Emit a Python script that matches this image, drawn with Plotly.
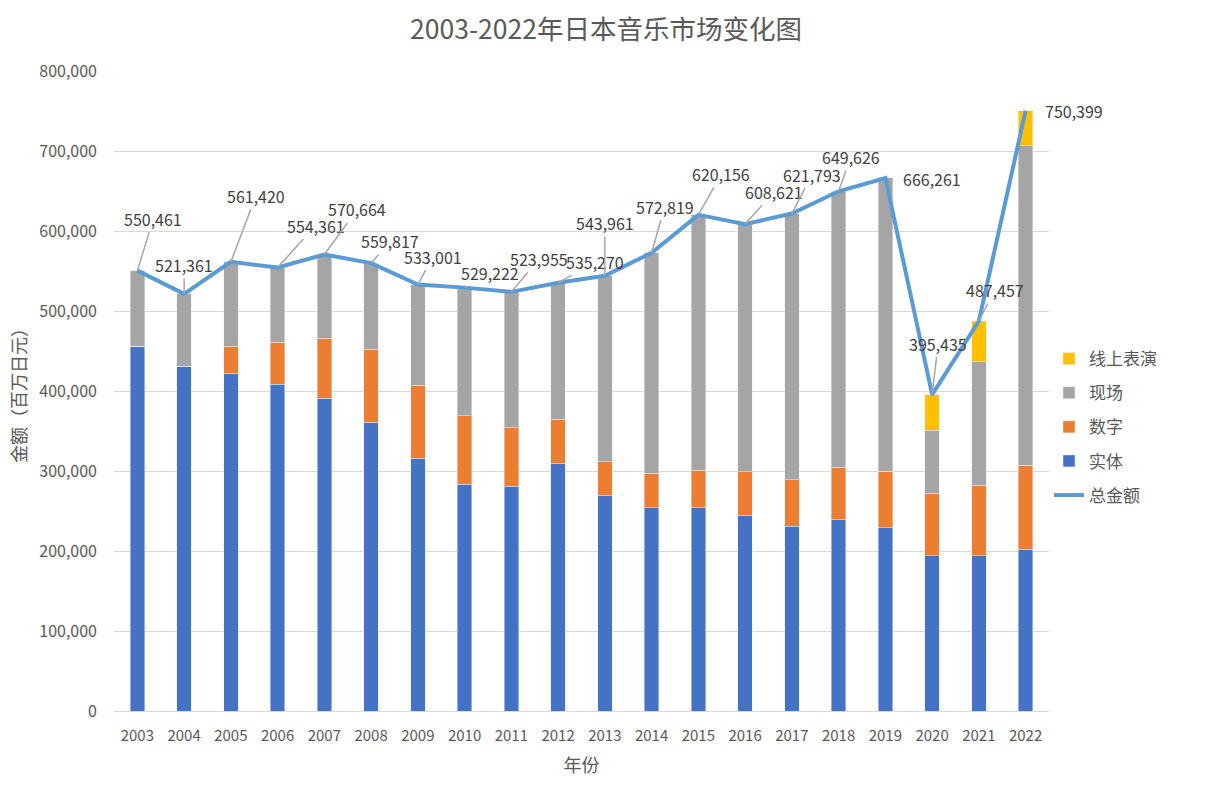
import plotly.graph_objects as go

years = [str(y) for y in range(2003, 2023)]
physical = [456000, 431000, 422500, 408700, 391200, 361200, 316200, 283700, 281200, 310000,
            270000, 254000, 254000, 245000, 231000, 240000, 229000, 194000, 194000, 202500]
digital = [0, 0, 33700, 52500, 75000, 91300, 91300, 85300, 72800, 55000,
           41700, 43500, 47000, 54000, 58000, 65000, 71000, 78500, 88500, 105000]
total = [550461, 521361, 561420, 554361, 570664, 559817, 533001, 529222, 523955, 535270,
         543961, 572819, 620156, 608621, 621793, 649626, 666261, 395435, 487457, 750399]
online = [0]*17 + [44600, 51200, 44100]
live = [t - p - d - o for t, p, d, o in zip(total, physical, digital, online)]

# label offsets (pixels) for data labels
lab_dx = [16, 0, 25, 38, 33, 19, 15, 25, 28, 37, 0, 13, 23, 29, 20, 12, 47, 6, 16, 48]
lab_dy = [-52, -29, -66, -42, -45, -22, -28, -15, -33, -21, -53, -46, -41, -32, -39, -34, 1, -51, -31, 0]
no_line = {16, 19}

FONT = "Microsoft YaHei, Noto Sans CJK SC, sans-serif"
fig = go.Figure()
fig.add_bar(x=years, y=physical, name="实体", marker_color="#4472c4", legendrank=4, legendgroup="a")
fig.add_bar(x=years, y=digital, name="数字", marker_color="#ed7d31", legendrank=3, legendgroup="b")
fig.add_bar(x=years, y=live, name="现场", marker_color="#a5a5a5", legendrank=2, legendgroup="c")
fig.add_bar(x=years, y=online, name="线上表演", marker_color="#ffc000", legendrank=1, legendgroup="d")
fig.add_scatter(x=years, y=total, name="总金额", mode="lines",
                line=dict(color="#5b9bd5", width=4), legendrank=5, legendgroup="e")

for i, t in enumerate(total):
    fig.add_annotation(x=i, y=t, text=f"{t:,}", showarrow=True, ax=lab_dx[i], ay=lab_dy[i],
                       arrowhead=0, arrowwidth=1.5, standoff=0,
                       arrowcolor="rgba(0,0,0,0)" if i in no_line else "#a6a6a6",
                       font=dict(size=16, color="#404040", family=FONT))

fig.update_layout(
    width=1212, height=787,
    barmode="stack", bargap=0.685,
    plot_bgcolor="white", paper_bgcolor="white",
    margin=dict(l=114, r=163, t=71, b=76),
    font=dict(family=FONT, color="#595959"),
    title=dict(text="2003-2022年日本音乐市场变化图", x=0.5, xanchor="center", y=0.962,
               yanchor="middle", font=dict(size=26.5, color="#595959", family=FONT)),
    xaxis=dict(type="category", range=[-0.5, len(years) - 0.5], autorange=False,
               title=dict(text="年份", font=dict(size=18, color="#595959"), standoff=15),
               tickfont=dict(size=15, color="#595959"), showgrid=False, ticks="",
               ticklabelstandoff=11,
               showline=True, linecolor="#d9d9d9", linewidth=1),
    yaxis=dict(title=dict(text="金额（百万日元）", font=dict(size=18, color="#595959"), standoff=7),
               range=[0, 800000], dtick=100000, tickformat=",", gridcolor="#d9d9d9",
               gridwidth=1.3, tickfont=dict(size=16, color="#595959"), zeroline=False,
               ticklabelstandoff=16),
    legend=dict(x=1.0, y=0.578, xanchor="left", yanchor="top", tracegroupgap=9,
                itemwidth=30, font=dict(size=17, color="#595959")),
    showlegend=True,
)
fig.write_html("out.html", post_script="document.body.style.margin='0';",
               config={"displayModeBar": False})
